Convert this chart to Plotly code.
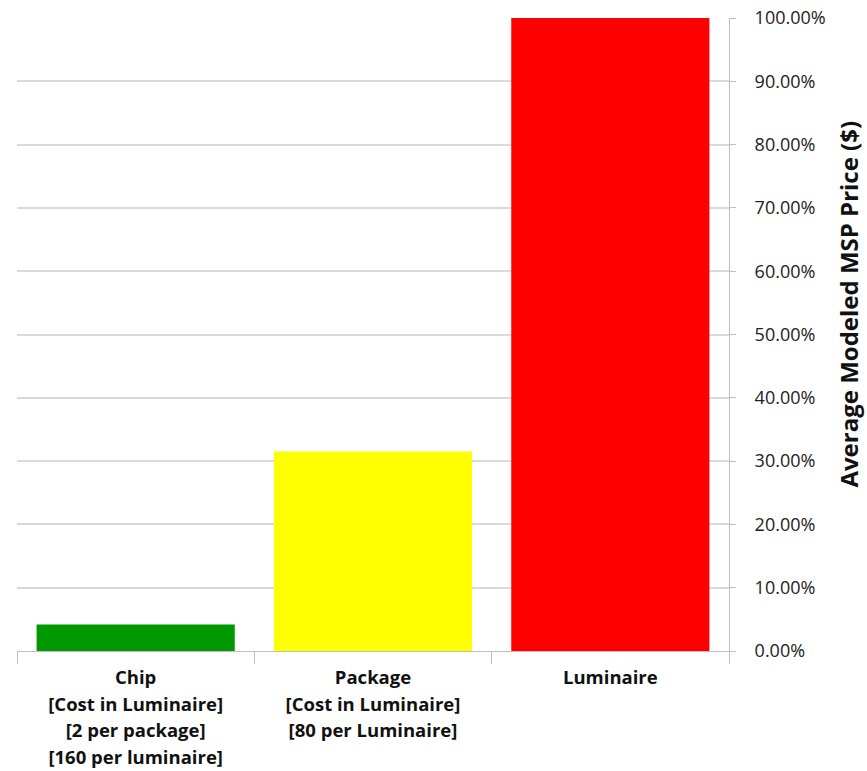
import plotly.graph_objects as go

# Modeled price share at each level of the LED supply chain
category_lines = [
    ["Chip", "[Cost in Luminaire]", "[2 per package]", "[160 per luminaire]"],
    ["Package", "[Cost in Luminaire]", "[80 per Luminaire]"],
    ["Luminaire"],
]
share = [0.042, 0.315, 1.0]
colors = ["#009900", "#FFFF00", "#FF0000"]

tick_vals = [i / 10 for i in range(11)]

FONT = "Open Sans"
LABEL_SIZE = 18.5

# Larger outer font sets the line pitch; inner span sets glyph size
categories = [
    "<br>".join(f"<span style='font-size:{LABEL_SIZE}px'>{ln}</span>" for ln in lines)
    for lines in category_lines
]

fig = go.Figure(
    go.Bar(
        x=categories,
        y=share,
        marker=dict(color=colors, line=dict(width=0)),
        width=0.835,
    )
)

fig.update_layout(
    width=867,
    height=771,
    margin=dict(l=17, r=138, t=18, b=120),
    plot_bgcolor="white",
    paper_bgcolor="white",
    showlegend=False,
    font=dict(family=FONT, color="#222222", size=15),
)

fig.update_xaxes(
    type="category",
    automargin=False,
    tickson="boundaries",
    ticks="outside",
    ticklen=12,
    tickcolor="#bfbfbf",
    ticklabelstandoff=8,
    showline=True,
    linecolor="#bfbfbf",
    linewidth=1,
    showgrid=False,
    tickfont=dict(family=FONT, size=20.3, color="#111111", weight="bold"),
)

fig.update_yaxes(
    side="right",
    automargin=False,
    range=[0, 1.0],
    tickvals=tick_vals,
    tickformat=".2%",
    ticks="outside",
    ticklen=6,
    tickcolor="#bfbfbf",
    ticklabelstandoff=15,
    showline=True,
    linecolor="#bfbfbf",
    linewidth=1,
    showgrid=True,
    gridcolor="#d9d9d9",
    gridwidth=1.5,
    zeroline=False,
    tickfont=dict(family=FONT, size=18, color="#222222"),
)

fig.add_annotation(
    text="<b>Average Modeled MSP Price ($)</b>",
    xref="paper",
    yref="paper",
    x=1,
    y=0.548,
    xshift=138,
    textangle=-90,
    showarrow=False,
    font=dict(family=FONT, size=24, color="#111111"),
)

fig.write_html("out.html")
